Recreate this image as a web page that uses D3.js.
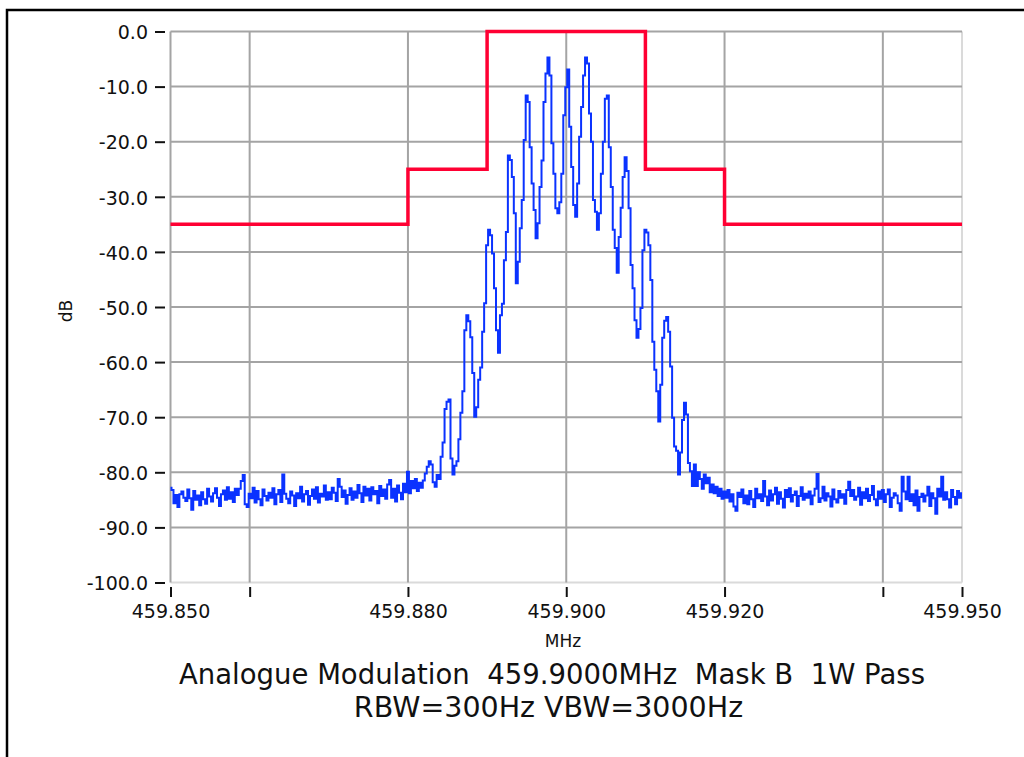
<!DOCTYPE html>
<html>
<head>
<meta charset="utf-8">
<script src="https://cdn.jsdelivr.net/npm/d3@7/dist/d3.min.js"></script>
<style>
  html, body { margin: 0; padding: 0; background: #fff; }
  svg { display: block; }
  text { font-family: "DejaVu Sans", sans-serif; fill: #111; }
</style>
</head>
<body>
<script>
// ---------- data ----------
const titleLines = ["Analogue Modulation  459.9000MHz  Mask B  1W Pass", "RBW=300Hz VBW=3000Hz"];
const xAxisTitle = "MHz";
const yAxisTitle = "dB";

const xGridTicks = [459.85, 459.86, 459.88, 459.90, 459.92, 459.94, 459.95];
const xLabelTicks = [459.85, 459.88, 459.90, 459.92, 459.95];
const yTicks = [0, -10, -20, -30, -40, -50, -60, -70, -80, -90, -100];

// limit mask (step after each frequency)
const maskFreq = [459.85, 459.88, 459.89, 459.91, 459.92, 459.95];
const maskDb   = [-35, -25, 0, -25, -35, -35];

// sweep settings
const sweepStart = 459.85;
const sweepStep = 0.00025;

// measured spectrum (dB), 401 points
const spectrumDb = [
 -82.8,-83.2,-85.6,-84.1,-86.3,-84.0,-83.5,-84.6,-85.2,-83.1,
 -84.7,-86.8,-83.4,-85.0,-84.2,-86.0,-83.6,-84.9,-85.7,-83.0,
 -84.4,-85.3,-83.8,-82.9,-84.6,-86.1,-84.0,-83.3,-85.0,-82.7,
 -84.8,-83.6,-85.4,-83.0,-84.1,-83.0,-81.6,-80.5,-85.8,-86.3,
 -83.9,-84.7,-82.8,-85.5,-83.4,-84.9,-86.0,-83.1,-84.3,-85.1,
 -83.7,-84.6,-82.9,-85.8,-84.0,-83.2,-85.4,-80.4,-83.9,-84.8,
 -85.6,-83.5,-84.2,-86.1,-83.8,-84.7,-82.6,-85.3,-84.0,-83.4,
 -85.9,-84.3,-83.1,-84.8,-82.7,-85.5,-83.9,-84.4,-82.4,-85.0,
 -83.6,-84.9,-82.8,-83.7,-85.2,-81.2,-82.6,-84.5,-83.3,-85.7,
 -84.1,-82.9,-85.0,-83.5,-84.6,-82.3,-83.8,-85.4,-82.6,-84.2,
 -83.0,-85.1,-82.7,-84.0,-83.4,-85.6,-82.5,-84.3,-83.1,-84.8,
 -82.2,-81.4,-84.6,-83.0,-85.3,-82.4,-83.7,-84.9,-82.1,-83.6,
 -79.9,-83.8,-81.6,-82.9,-81.2,-83.4,-81.9,-82.8,
 // signal region
 -81.5,-80.2,-79.0,-78.0,-78.6,-81.8,-82.6,-80.5,-81.2,-77.2,
 -74.6,-68.5,-67.2,-66.8,-77.5,-80.4,-78.8,-78.0,-74.0,-69.2,
 -65.3,-54.2,-51.5,-52.6,-55.5,-62.0,-69.9,-68.2,-63.2,-61.0,
 -54.5,-49.3,-38.8,-36.0,-37.0,-40.3,-46.6,-54.2,-58.3,-51.5,
 -49.4,-41.5,-36.4,-22.5,-23.3,-26.4,-33.0,-45.7,-41.8,-35.7,
 -30.6,-19.7,-11.6,-12.8,-21.0,-27.6,-32.4,-37.5,-34.8,-28.2,
 -23.4,-12.8,-7.6,-4.7,-8.0,-20.3,-25.8,-32.1,-33.0,-31.0,
 -25.8,-15.2,-10.1,-6.9,-17.3,-24.6,-31.5,-33.6,-27.6,-19.1,
 -13.7,-8.0,-4.7,-5.8,-14.9,-20.0,-30.6,-32.7,-36.0,-33.0,
 -25.8,-20.0,-12.2,-11.6,-21.0,-28.2,-36.0,-39.3,-43.8,-37.3,
 -32.0,-26.4,-22.8,-25.3,-32.1,-42.4,-46.6,-52.4,-55.6,-54.0,
 -50.2,-39.7,-36.0,-36.5,-38.8,-45.1,-56.3,-61.4,-65.3,-70.8,
 -64.1,-55.6,-52.5,-51.8,-54.5,-60.8,-70.1,-75.3,-76.1,-80.4,
 -76.4,-70.5,-67.4,-69.5,-78.3,-79.8,-82.5,-78.6,-82.5,-80.0,
 -81.2,-83.0,-80.4,-82.0,-81.0,-83.6,-82.2,-83.8,-82.6,-84.3,
 -83.0,-84.8,-83.5,
 // right noise
 -84.6,-83.2,-85.3,-84.0,-86.2,-87.0,-83.7,-84.5,-83.1,-85.6,
 -84.2,-85.8,-83.4,-84.9,-86.3,-83.0,-84.7,-84.0,-85.2,-81.6,
 -84.4,-86.0,-83.3,-85.1,-84.0,-82.8,-85.7,-83.6,-84.8,-86.4,
 -83.2,-84.5,-82.9,-85.3,-84.1,-83.5,-86.1,-84.3,-82.7,-85.0,
 -83.9,-84.6,-83.5,-85.8,-84.2,-83.0,-80.3,-85.4,-84.7,-82.6,
 -85.1,-83.8,-84.4,-86.2,-83.1,-84.9,-85.5,-83.4,-84.6,-84.0,
 -85.7,-83.2,-81.7,-84.3,-83.2,-85.0,-84.4,-82.8,-85.9,-83.6,
 -84.7,-83.0,-85.2,-84.1,-82.5,-84.9,-86.0,-83.5,-84.8,-83.2,
 -85.4,-84.0,-83.1,-86.3,-84.6,-83.8,-84.2,-85.6,-87.0,-80.8,
 -83.5,-84.9,-80.8,-85.2,-84.0,-86.0,-83.3,-87.0,-84.5,-83.9,
 -85.3,-84.2,-82.6,-86.1,-83.8,-84.7,-87.5,-83.0,-84.4,-80.8,
 -85.0,-83.6,-84.9,-86.4,-83.2,-84.5,-85.8,-83.4,-84.6,-83.8
];

// ---------- chart ----------
const W = 1024, H = 757;
const svg = d3.select("body").append("svg").attr("width", W).attr("height", H);

svg.append("rect").attr("x", 0).attr("y", 0).attr("width", W).attr("height", H).attr("fill", "#fff");
// outer frame
svg.append("rect").attr("x", 7).attr("y", 10).attr("width", 1100).attr("height", 900)
  .attr("fill", "none").attr("stroke", "#000").attr("stroke-width", 2.5);

const x = d3.scaleLinear().domain([459.85, 459.95]).range([170.5, 962]);
const y = d3.scaleLinear().domain([0, -100]).range([31.5, 582.5]);

// plot frame (right / bottom light)
svg.append("line").attr("x1", x(459.95)).attr("x2", x(459.95)).attr("y1", y(0)).attr("y2", y(-100))
  .attr("stroke", "#dadada").attr("stroke-width", 2);
svg.append("line").attr("x1", x(459.85)).attr("x2", x(459.95)).attr("y1", y(-100)).attr("y2", y(-100))
  .attr("stroke", "#dadada").attr("stroke-width", 2);

// grid
const grid = svg.append("g");
grid.selectAll("line.h").data(yTicks.filter(d => d > -100)).join("line").attr("class", "h")
  .attr("x1", x(459.85)).attr("x2", x(459.95)).attr("y1", d => y(d)).attr("y2", d => y(d))
  .attr("stroke", "#a4a4a4").attr("stroke-width", 2);
grid.selectAll("line.v").data(xGridTicks.filter(d => d < 459.95)).join("line").attr("class", "v")
  .attr("x1", d => x(d)).attr("x2", d => x(d)).attr("y1", y(0)).attr("y2", y(-100))
  .attr("stroke", "#a4a4a4").attr("stroke-width", 2);

// y axis
const yAxis = svg.append("g").attr("transform", "translate(165,0)")
  .call(d3.axisLeft(y).tickValues(yTicks).tickSize(10).tickPadding(7).tickFormat(d => d.toFixed(1)));
yAxis.select(".domain").remove();
yAxis.selectAll(".tick line").attr("stroke", "#111").attr("stroke-width", 2);
yAxis.selectAll(".tick text").attr("font-size", 19).attr("font-family", "DejaVu Sans").attr("fill", "#111").attr("dy", "0.38em");

// x axis
const xAxis = svg.append("g").attr("transform", "translate(0,587)")
  .call(d3.axisBottom(x).tickValues(xGridTicks).tickSize(10).tickPadding(7.5)
    .tickFormat(d => xLabelTicks.some(v => Math.abs(v - d) < 1e-9) ? d.toFixed(3) : ""));
xAxis.select(".domain").remove();
xAxis.selectAll(".tick line").attr("stroke", "#111").attr("stroke-width", 2);
xAxis.selectAll(".tick text").attr("font-size", 19).attr("font-family", "DejaVu Sans").attr("fill", "#111");

// axis titles
svg.append("text").attr("x", 563).attr("y", 647).attr("text-anchor", "middle")
  .attr("font-size", 17).text(xAxisTitle);
svg.append("text").attr("transform", "translate(72,311) rotate(-90)").attr("text-anchor", "middle")
  .attr("font-size", 17).text(yAxisTitle);

// spectrum
const pts = spectrumDb.map((v, i) => [sweepStart + i * sweepStep, v]);
svg.append("path").datum(pts)
  .attr("fill", "none").attr("stroke", "#0a32ff").attr("stroke-width", 2)
  .attr("d", d3.line().x(d => x(d[0])).y(d => y(d[1])).curve(d3.curveStep));

// mask
const maskPts = maskFreq.map((f, i) => [f, maskDb[i]]);
svg.append("path").datum(maskPts)
  .attr("fill", "none").attr("stroke", "#ff0033").attr("stroke-width", 3.5)
  .attr("d", d3.line().x(d => x(d[0])).y(d => y(d[1])).curve(d3.curveStepAfter));

// titles
svg.append("text").attr("x", 552).attr("y", 683.5).attr("text-anchor", "middle")
  .attr("font-size", 27.5).style("white-space", "pre").text(titleLines[0]);
svg.append("text").attr("x", 548.5).attr("y", 717).attr("text-anchor", "middle")
  .attr("font-size", 28.5).text(titleLines[1]);
</script>
</body>
</html>
